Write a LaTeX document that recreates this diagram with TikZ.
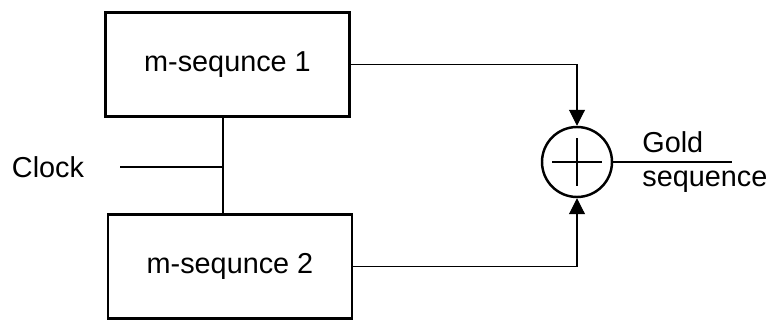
\documentclass[tikz,border=0pt]{standalone}
\usepackage{fontspec}
\setmainfont{Liberation Sans}
\usetikzlibrary{positioning,arrows.meta,calc}

\tikzset{
  gen/.style={draw,line width=1.7pt,minimum width=4.88cm,minimum height=2.08cm,inner sep=0pt},
  wire/.style={line width=0.6pt},
  arr/.style={wire,-{Triangle[length=3.2mm,width=3.2mm]}}
}

\begin{document}
\begin{tikzpicture}[font=\fontsize{16.4}{19.5}\selectfont]
    \useasboundingbox (0,0) rectangle (15.44,6.44);
    \node[gen] at (4.55,5.15) (m1) {m-sequnce 1};
    \node[gen] at (4.60,1.11) (m2) {m-sequnce 2};
    \node[draw,circle,line width=1.4pt,minimum size=1.4cm] at (11.54,3.2) (add) {};
    \draw[wire] (add.center) +(-0.5,0) -- +(0.5,0)
                (add.center) +(0,-0.48) -- +(0,0.48);
%
%   clock feeds both generators
    \node at (0.96,3.1) (clk) {Clock};
    \coordinate (j) at (4.46,3.1);
    \coordinate (c0) at (2.4,3.1);
    \draw[wire] (c0) -- (j);
    \draw[wire] (j |- m1.south) -- (j |- m2.north);
%
    \draw[arr] (m1.east) -| (add.north);
    \draw[arr] (m2.east) -| (add.south);
    \coordinate (out) at (14.64,3.2);
    \draw[wire] (add.east) -- (out);
    \node[align=left,anchor=west,inner sep=0pt] at (12.84,3.2) (gold) {Gold\\sequence};
  \end{tikzpicture}
\end{document}
